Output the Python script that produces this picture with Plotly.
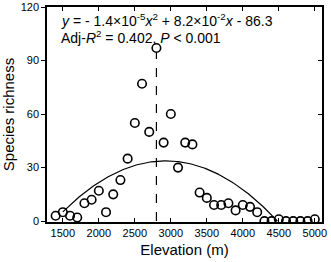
import plotly.graph_objects as go
import numpy as np

elevation = [1400, 1500, 1600, 1700, 1800, 1900, 2000, 2100, 2200, 2300, 2400, 2500,
             2600, 2700, 2800, 2900, 3000, 3100, 3200, 3300, 3400, 3500, 3600, 3700,
             3800, 3900, 4000, 4100, 4200, 4300, 4400, 4500, 4600, 4700, 4800, 4900, 5000]
richness = [3, 5, 3, 2, 10, 12, 17, 5, 15, 23, 35, 55,
            77, 50, 97, 44, 60, 30, 44, 43, 16, 13, 9, 9,
            10, 6, 9, 8, 5, 0, 0, 1, 0, 0, 0, 0, 1]

# quadratic fit stated on the chart
coef_a, coef_b, coef_c = -1.4e-5, 8.2e-2, -86.3
fit_start, fit_end = 1500, 4482
peak_elev = 2800

x_tick_vals = [1500, 2000, 2500, 3000, 3500, 4000, 4500, 5000]
y_tick_vals = [0, 30, 60, 90, 120]

FONT = "Arial, Liberation Sans, sans-serif"

fx = np.linspace(fit_start, fit_end, 200)
fy = coef_a * fx ** 2 + coef_b * fx + coef_c

fig = go.Figure()
fig.add_trace(go.Scatter(x=fx, y=fy, mode="lines",
                         line=dict(color="black", width=1.2), hoverinfo="skip"))
fig.add_trace(go.Scatter(x=[peak_elev, peak_elev], y=[0, richness[elevation.index(peak_elev)] - 2.5],
                         mode="lines", yaxis="y2",
                         line=dict(color="black", width=1.2, dash="dash")))
fig.add_trace(go.Scatter(x=elevation, y=richness, mode="markers",
                         marker=dict(symbol="circle-open", size=8.5, color="black",
                                     line=dict(width=1.6, color="black"))))

fig.add_annotation(x=0.045, y=0.94, xref="paper", yref="paper", xanchor="left", yanchor="middle",
                   showarrow=False, font=dict(family=FONT, size=14, color="black"),
                   text="<i>y</i> = - 1.4×10<sup>-5</sup><i>x</i><sup>2</sup> + 8.2×10<sup>-2</sup><i>x</i> - 86.3")
fig.add_annotation(x=0.045, y=0.86, xref="paper", yref="paper", xanchor="left", yanchor="middle",
                   showarrow=False, font=dict(family=FONT, size=14, color="black"),
                   text="Adj-<i>R</i><sup>2</sup> = 0.402, <i>P</i> &lt; 0.001")

fig.update_layout(
    width=331, height=262,
    margin=dict(l=47, r=9, t=7, b=40, autoexpand=False),
    paper_bgcolor="white", plot_bgcolor="white",
    showlegend=False,
    font=dict(family=FONT, color="black"),
    xaxis=dict(range=[1280, 5100], tickvals=x_tick_vals, ticks="inside", ticklen=4,
               tickwidth=1, tickcolor="black", mirror="ticks", showline=True,
               linecolor="black", linewidth=1.5, showgrid=False, zeroline=False,
               automargin=False,
               tickfont=dict(family=FONT, size=11, color="black"),
               title=dict(text="Elevation (m)", font=dict(family=FONT, size=15, color="black"),
                          standoff=7)),
    yaxis=dict(range=[-0.5, 120], tickvals=y_tick_vals, ticks="outside", ticklen=4,
               tickwidth=1, tickcolor="black", mirror=True, showline=True,
               linecolor="black", linewidth=1.5, showgrid=False, zeroline=False,
               automargin=False,
               tickfont=dict(family=FONT, size=11, color="black"),
               title=dict(text="Species richness", font=dict(family=FONT, size=15, color="black"),
                          standoff=6)),
    yaxis2=dict(overlaying="y", side="right", matches="y", tickvals=y_tick_vals,
                ticks="inside", ticklen=4, tickwidth=1, tickcolor="black", automargin=False,
                showticklabels=False, showline=False, showgrid=False, zeroline=False),
)

fig.write_html("out.html", config={"displayModeBar": False},
               post_script="document.body.style.margin='0';document.body.style.padding='0';")
